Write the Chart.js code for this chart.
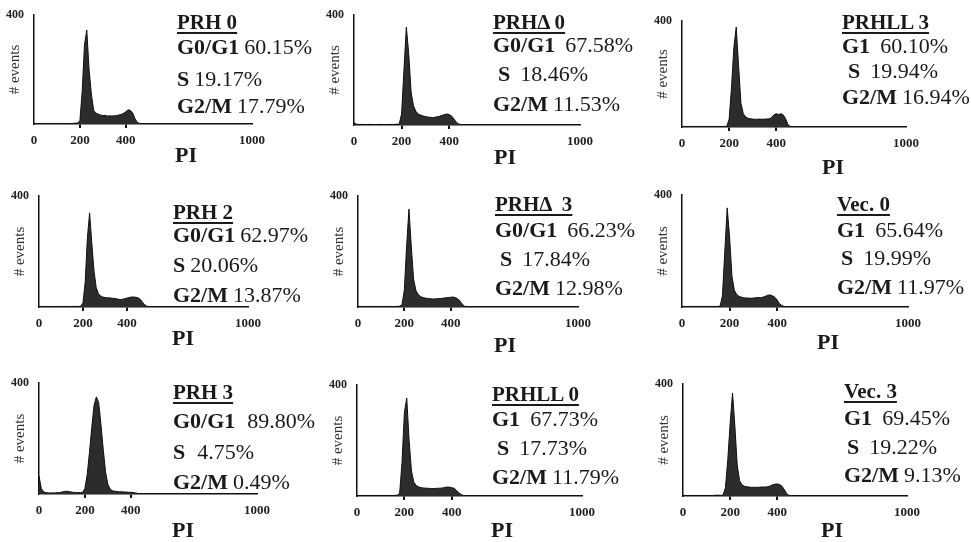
<!DOCTYPE html>
<html><head><meta charset="utf-8">
<script src="https://cdn.jsdelivr.net/npm/chart.js@4.4.1/dist/chart.umd.min.js"></script>
<style>
html,body{margin:0;padding:0;background:#fff;}
#wrap{position:relative;width:972px;height:542px;overflow:hidden;background:#fff;}
canvas{position:absolute;}
.t{position:absolute;font-family:'Liberation Serif','Times New Roman',serif;color:#1a1a1a;white-space:pre;line-height:22px;font-size:22px;}
.t .lb{font-weight:bold;}
.title{font-weight:bold;font-size:21px;text-decoration:underline;text-decoration-thickness:1.5px;text-underline-offset:3px;}
.pi{font-weight:bold;font-size:22px;transform:translateX(-50%);}
</style></head><body><div id="wrap"></div>
<script>
// ---- data ----
const piChannels = [0,10,20,30,40,50,60,70,80,90,100,110,120,130,140,150,160,170,180,190,200,210,220,230,240,250,260,270,280,290,300,310,320,330,340,350,360,370,380,390,400,410,420,430,440,450,460,470,480,490,500];
const xTickValues = [0,200,400,950];
const xTickLabels = ['0','200','400','1000'];
const yTickValues = [400];
const yTickLabels = ['400'];

const prh0   = [2,2,1,2,1,2,2,1,2,2,1,2,2,1,2,2,2,2,3, 4,12,120,290,345,200,110,50,40,36,33,31,32,29,30,29,30,31,33,35,39,45,52,50,40,20,6,2,1,2,1,1];
const prhD0  = [8,3, 2,2,2,1,2,2,2,1,2,2,2,1,2,2,2,2,3, 3,40,200,356,260,120,70,50,40,36,33,31,29,28,27,28,30,32,35,38,40,38,33,22,10,4,1,1,0,0,0,0];
const prhll3 = [2,2,2,2,2,2,2,2,2,2,2,2,2,2,2,2,2,2,2,3, 30,150,300,377,230,90,50,38,33,31,30,29,29,30,29,30,30,31,36,46,50,47,50,45,30,8,2,1,0,0,0];
const prh2   = [2,1,2,2,1,2,2,1,2,2,1,2,2,2,1,2,2,2,2,3, 15,90,250,339,230,130,70,48,40,36,34,33,33,32,31,30,28,27,28,30,32,34,36,36,35,33,28,18,8,3,1];
const prhD3  = [2,2,2,2,1,2,2,2,2,1,2,2,2,2,2,1,2,2,3, 8,60,220,353,220,100,60,45,38,34,32,31,30,29,29,30,30,31,32,33,34,35,36,34,30,22,10,3,1,0,0,0];
const vec0   = [2,2,2,2,2,2,2,2,2,2,2,2,2,2,2,2,3, 40,200,354,250,110,60,45,38,35,33,32,32,31,32,33,34,33,35,38,42,43,40,35,25,12,5,2,1,1,1,0,0,0,0];
const prh3   = [65,20,8,5,4,4,4,4,5,5,7,9,10,9,7,6,5,5,5,6, 20,70,150,240,320,350,330,250,160,80,35,18,12,10,9,8,8,7,7,6,6,5,4,2,1,1,0,0,0,0,0];
const prhll0 = [2,2,2,2,2,2,2,2,2,2,2,2,2,2,2,2,2,3, 10,120,300,353,200,90,50,38,33,30,29,28,28,27,27,27,28,28,29,31,32,32,30,28,20,12,5,2,1,1,0,0,0];
const vec3   = [2,2,2,2,2,2,2,2,2,2,2,2,2,2,3,3,2,3, 30,130,260,368,250,110,55,40,35,33,32,31,31,31,31,32,32,32,33,36,40,42,43,41,35,22,8,2,1,1,0,0,0];

const panelTitles = ['PRH 0','PRHΔ 0','PRHLL 3','PRH 2','PRHΔ  3','Vec. 0','PRH 3','PRHLL 0','Vec. 3'];
const g1Labels = ['G0/G1','G0/G1','G1','G0/G1','G0/G1','G1','G0/G1','G1','G1'];
const g1Values = ['60.15%','67.58%','60.10%','62.97%','66.23%','65.64%','89.80%','67.73%','69.45%'];
const sValues  = ['19.17%','18.46%','19.94%','20.06%','17.84%','19.99%','4.75%','17.73%','19.22%'];
const g2Values = ['17.79%','11.53%','16.94%','13.87%','12.98%','11.97%','0.49%','11.79%','9.13%'];
const sLabel = 'S', g2Label = 'G2/M', yTitle = '# events', xTitle = 'PI';

const series = [prh0, prhD0, prhll3, prh2, prhD3, vec0, prh3, prhll0, vec3];

// ---- layout (pixels) ----
const panelLayout = [
 {ax:34, top:15, base:124, xEnd:252, tx:177, sx:177, gap:5,  ty:[22,47,79,106], pi:[186,155]},
 {ax:354,top:15, base:125, xEnd:580, tx:493, sx:498, gap:10, ty:[22,45,74,104], pi:[505,157]},
 {ax:682,top:21, base:127, xEnd:906, tx:842, sx:848, gap:10, ty:[22,46,71,97],  pi:[833,167]},
 {ax:39, top:196,base:307, xEnd:248, tx:173, sx:173, gap:5,  ty:[212,235,265,295], pi:[183,338]},
 {ax:358,top:196,base:307, xEnd:578, tx:495, sx:500, gap:10, ty:[204,230,259,288], pi:[505,345]},
 {ax:682,top:195,base:307, xEnd:908, tx:837, sx:841, gap:10, ty:[204,230,258,287], pi:[828,342]},
 {ax:39, top:383,base:494, xEnd:257, tx:173, sx:173, gap:12, ty:[392,421,452,482], pi:[183,530]},
 {ax:357,top:385,base:496, xEnd:582, tx:492, sx:497, gap:10, ty:[394,419,448,477], pi:[502,530]},
 {ax:683,top:384,base:496, xEnd:907, tx:844, sx:847, gap:10, ty:[391,418,447,475], pi:[832,530]}
];

const wrap = document.getElementById('wrap');
const FONT = "'Liberation Serif','Times New Roman',serif";

function addDiv(x, y, cls, parts) {
  const d = document.createElement('div');
  d.className = 't ' + cls;
  d.style.left = x + 'px';
  d.style.top = (y - 11) + 'px';
  parts.forEach(p => {
    const s = document.createElement('span');
    if (p.cls) s.className = p.cls;
    if (p.ml) s.style.marginLeft = p.ml + 'px';
    s.textContent = p.text;
    d.appendChild(s);
  });
  wrap.appendChild(d);
}

function makePanel(i) {
  const L = panelLayout[i];
  const padTop = 12, padRight = 24, yW = 34, xH = 34;
  const left = L.ax - yW, top = L.top - padTop;
  const w = L.xEnd + padRight - left, h = L.base + xH - top;
  const cv = document.createElement('canvas');
  cv.style.left = left + 'px'; cv.style.top = top + 'px';
  cv.style.width = w + 'px'; cv.style.height = h + 'px';
  cv.width = w; cv.height = h;
  wrap.appendChild(cv);
  new Chart(cv, {
    type: 'line',
    data: { datasets: [{
      data: piChannels.map((x, k) => ({x: x, y: series[i][k]})),
      fill: 'origin', backgroundColor: '#2c2c2c', borderColor: '#0f0f0f',
      borderWidth: 1, pointRadius: 0, tension: 0
    }]},
    options: {
      responsive: false, animation: false, events: [],
      layout: { padding: { top: padTop, right: padRight, left: 0, bottom: 0 } },
      plugins: { legend: { display: false }, tooltip: { enabled: false } },
      scales: {
        x: {
          type: 'linear', min: 0, max: 950,
          afterFit(s) { s.height = xH; },
          afterBuildTicks(s) { s.ticks = xTickValues.map(v => ({value: v})); },
          ticks: { autoSkip: false, maxRotation: 0, minRotation: 0, padding: 5, color: '#222',
                   font: { family: FONT, size: 13, weight: 'bold' },
                   callback: (v, idx) => xTickLabels[idx] },
          grid: { display: true, drawOnChartArea: false, drawTicks: true, tickLength: 4, lineWidth: 2,
                  color: c => (c.tick && (c.tick.value === 200 || c.tick.value === 400)) ? '#111' : 'rgba(0,0,0,0)' },
          border: { display: true, color: '#111', width: 1.5 }
        },
        y: {
          type: 'linear', min: 0, max: 400,
          afterFit(s) { s.width = yW; },
          afterBuildTicks(s) { s.ticks = yTickValues.map(v => ({value: v})); },
          ticks: { padding: 2, color: '#222', font: { family: FONT, size: 12, weight: 'bold' },
                   callback: (v, idx) => yTickLabels[idx] },
          grid: { display: false },
          border: { display: true, color: '#111', width: 1.5 },
          title: { display: true, text: yTitle, color: '#333', font: { family: FONT, size: 15 },
                   padding: { top: 6, bottom: 0 } }
        }
      }
    }
  });
  // texts
  addDiv(L.tx, L.ty[0], 'title', [{text: panelTitles[i]}]);
  addDiv(L.tx, L.ty[1], '', [{text: g1Labels[i], cls: 'lb'}, {text: g1Values[i], ml: L.gap}]);
  addDiv(L.sx, L.ty[2], '', [{text: sLabel, cls: 'lb'}, {text: sValues[i], ml: L.gap}]);
  addDiv(L.tx, L.ty[3], '', [{text: g2Label, cls: 'lb'}, {text: g2Values[i], ml: 5}]);
  addDiv(L.pi[0], L.pi[1], 'pi', [{text: xTitle}]);
}

for (let i = 0; i < 9; i++) makePanel(i);
</script>
</body></html>
